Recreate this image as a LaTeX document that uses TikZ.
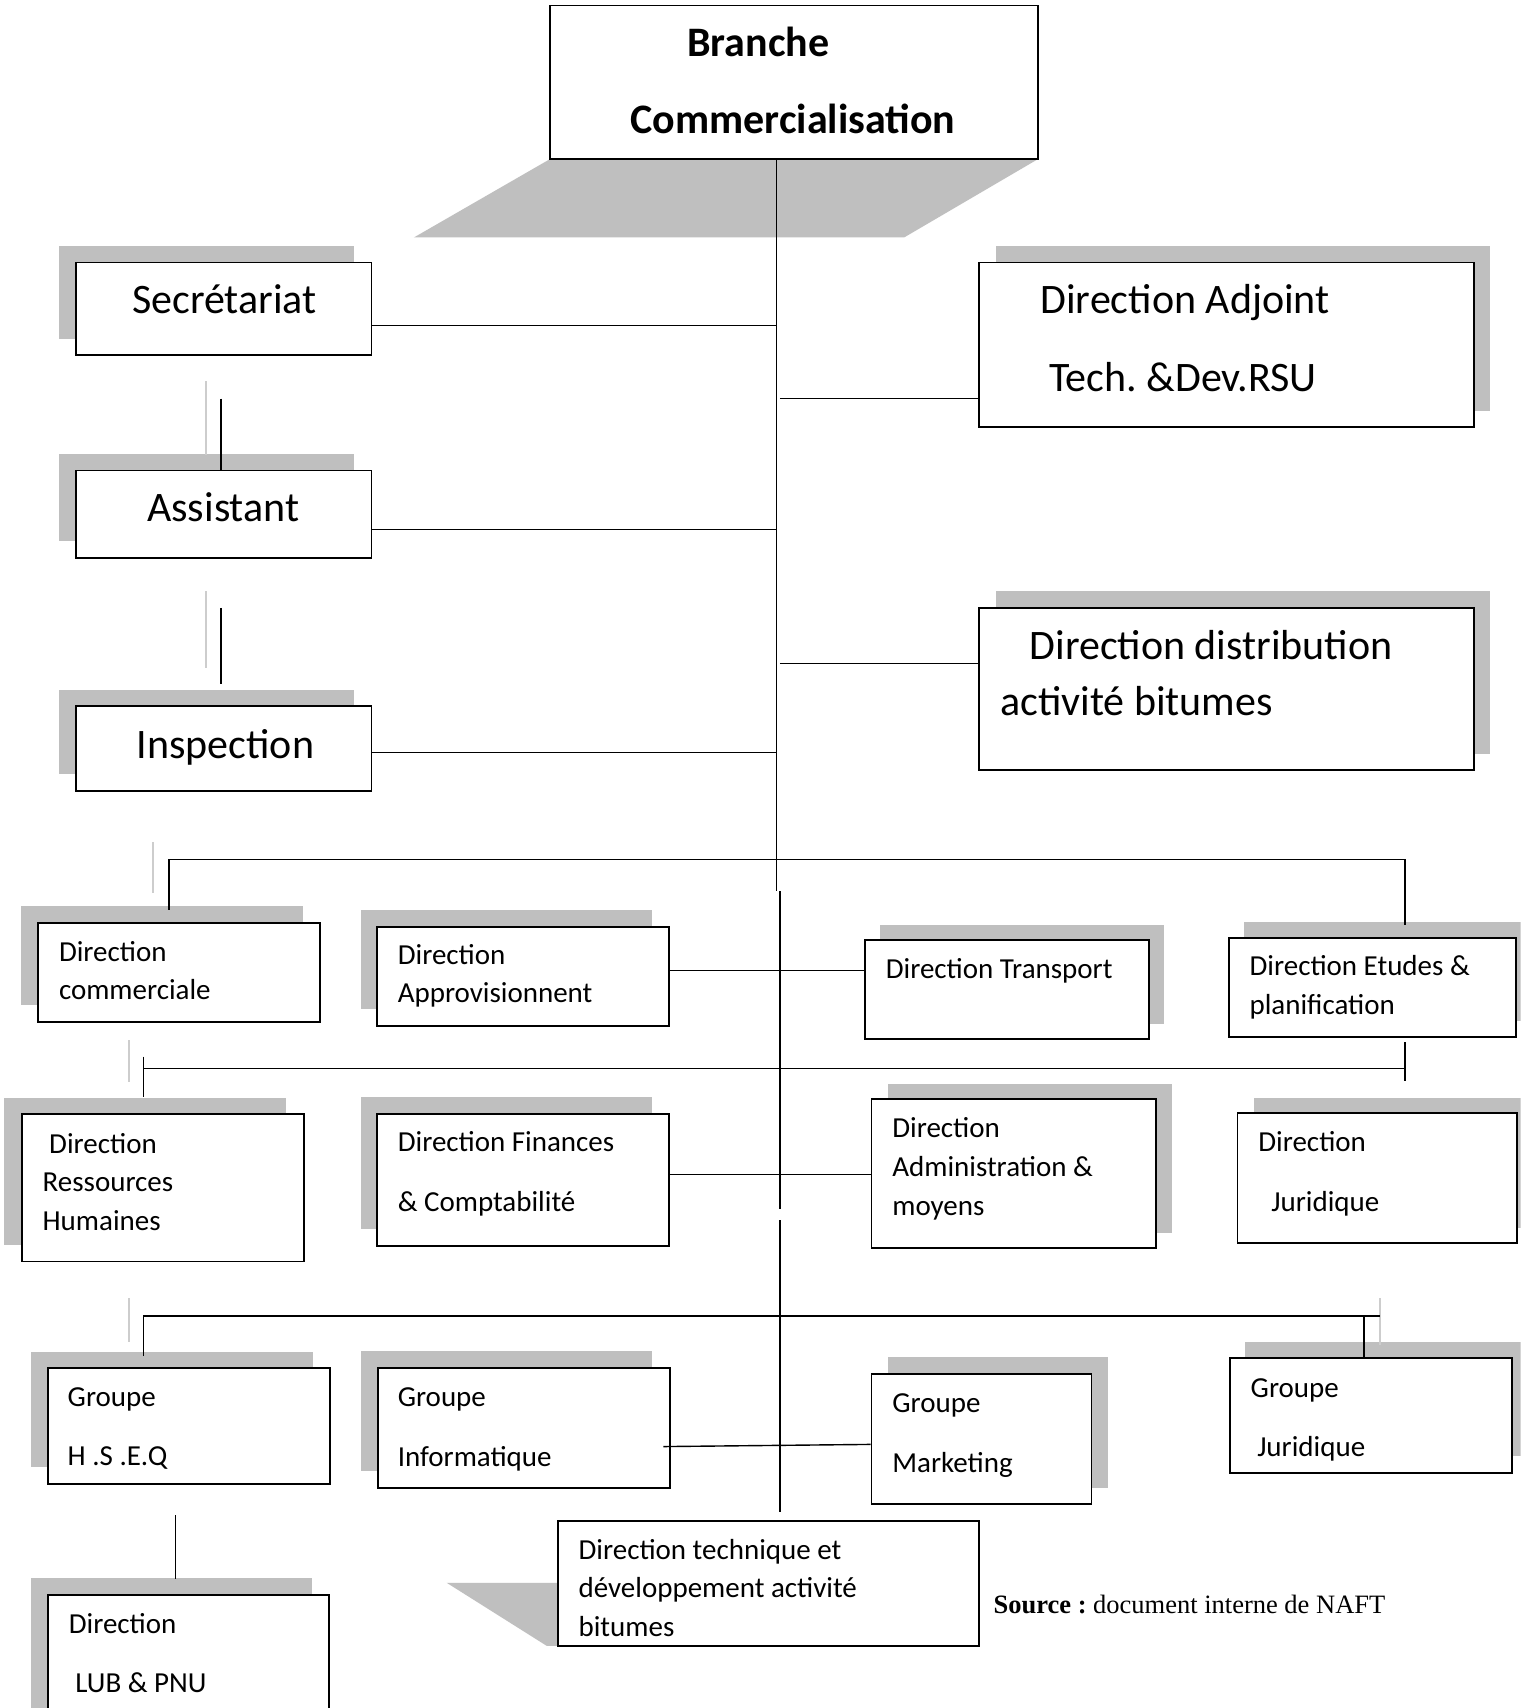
\documentclass[tikz,border=0pt]{standalone}
\usepackage{fontspec}
\setmainfont{Carlito}
\newfontfamily\srcfont{Liberation Serif}
\usetikzlibrary{fit}
\definecolor{shadowgray}{RGB}{191,191,191}
\definecolor{lightline}{RGB}{205,205,205}
\tikzset{
  orgbox/.style={draw=black, fill=white, line width=1.8pt, inner sep=0pt},
  conn/.style={line width=1.4pt, draw=black},
  ghost/.style={line width=2pt, draw=lightline},
  bigtxt/.style={font=\fontsize{42}{50}\selectfont, inner sep=0pt, anchor=base},
  bigleft/.style={bigtxt, anchor=base west},
  boldtxt/.style={font=\fontsize{42}{50}\selectfont\bfseries, inner sep=0pt, anchor=base},
  smalltxt/.style={font=\fontsize{29}{35}\selectfont, inner sep=0pt, anchor=base west},
  srctxt/.style={font=\fontsize{26.5}{32}\selectfont\srcfont, inner sep=0pt, anchor=base west},
}
\newcommand\mkorgbox[7]{%
  \fill[shadowgray, shift={(#6,#7)}] (#2,#3) rectangle (#4,#5);
  \node[orgbox, fit={(#2,#3) (#4,#5)}] (#1) {};
}
\frenchspacing
\begin{document}
\begin{tikzpicture}[x=1.0896pt, y=-1.0896pt]
\clip (0,0) rectangle (1396,1568);
\fill[white] (0,0) rectangle (1396,1568);

% ---------- top box ----------
\fill[shadowgray] (505,146) -- (953,146) -- (830,218) -- (380,218) -- cycle;
\node[orgbox, fit={(505,5) (953,146)}] (top) {};
\node[boldtxt] (t1) at (696,52) {Branche};
\node[boldtxt] (t2) at (728,123) {Commercialisation};

% ---------- left column ----------
\mkorgbox{sec}{70}{241}{341}{326}{-16}{-15}
\node[bigtxt] (secT) at (206,288) {Secrétariat};
\mkorgbox{asst}{70}{432}{341}{512}{-16}{-15}
\node[bigtxt] (asstT) at (205,479) {Assistant};
\mkorgbox{insp}{70}{648}{341}{726}{-16}{-15}
\node[bigtxt] (inspT) at (207,696) {Inspection};

% ---------- right column ----------
\mkorgbox{adj}{899}{241}{1353}{392}{15}{-15}
\node[bigleft] (adjT1) at (955,288) {Direction Adjoint};
\node[bigleft] (adjT2) at (963,359) {Tech. \&Dev.RSU};
\mkorgbox{dist}{899}{558}{1353}{707}{15}{-15}
\node[bigleft] (distT1) at (945,605) {Direction distribution};
\node[bigleft] (distT2) at (918,657) {activité bitumes};

% ---------- row 1 ----------
\mkorgbox{dcom}{35}{847}{294}{938}{-16}{-15}
\node[smalltxt] (dcomT1) at (54,882.5) {Direction};
\node[smalltxt] (dcomT2) at (54,917.5) {commerciale};
\mkorgbox{appro}{346}{851}{614}{942}{-15}{-16}
\node[smalltxt] (approT1) at (365,885.5) {Direction};
\node[smalltxt] (approT2) at (365,920.5) {Approvisionnent};
\mkorgbox{trans}{794}{863}{1055}{954}{14}{-14}
\node[smalltxt] (transT) at (813,898.5) {Direction Transport};
\mkorgbox{etud}{1128}{861}{1392}{952}{14}{-15}
\node[smalltxt] (etudT1) at (1147,895.5) {Direction Etudes \&};
\node[smalltxt] (etudT2) at (1147,931.5) {planification};

% ---------- row 2 ----------
\mkorgbox{rh}{20}{1023}{279}{1158}{-16}{-15}
\node[smalltxt] (rhT1) at (45,1058.5) {Direction};
\node[smalltxt] (rhT2) at (39,1093.5) {Ressources};
\node[smalltxt] (rhT3) at (39,1129.5) {Humaines};
\mkorgbox{fin}{346}{1023}{614}{1144}{-15}{-16}
\node[smalltxt] (finT1) at (365,1057.5) {Direction Finances};
\node[smalltxt] (finT2) at (365,1112.5) {\& Comptabilité};
\mkorgbox{admin}{800}{1009}{1061}{1146}{15}{-14}
\node[smalltxt] (adminT1) at (819,1044.5) {Direction};
\node[smalltxt] (adminT2) at (819,1080) {Administration \&};
\node[smalltxt] (adminT3) at (819,1115.5) {moyens};
\mkorgbox{jur}{1136}{1022}{1393}{1141}{15}{-14}
\node[smalltxt] (jurT1) at (1155,1057.5) {Direction};
\node[smalltxt] (jurT2) at (1167,1112.5) {Juridique};

% ---------- row 3 ----------
\mkorgbox{hseq}{44}{1256}{303}{1362}{-16}{-15}
\node[smalltxt] (hseqT1) at (62,1291.5) {Groupe};
\node[smalltxt] (hseqT2) at (62,1345.5) {H .S .E.Q};
\mkorgbox{info}{347}{1256}{615}{1366}{-16}{-16}
\node[smalltxt] (infoT1) at (365,1291.5) {Groupe};
\node[smalltxt] (infoT2) at (365,1346.5) {Informatique};
\mkorgbox{mkt}{800}{1261}{1002}{1381}{15}{-15}
\node[smalltxt] (mktT1) at (819,1296.5) {Groupe};
\node[smalltxt] (mktT2) at (819,1351.5) {Marketing};
\mkorgbox{gjur}{1129}{1247}{1388}{1352}{14}{-15}
\node[smalltxt] (gjurT1) at (1148,1282.5) {Groupe};
\node[smalltxt] (gjurT2) at (1154,1337.5) {Juridique};

% ---------- bottom ----------
\mkorgbox{lub}{44}{1464}{302}{1600}{-16}{-15}
\node[smalltxt] (lubT1) at (63,1499.5) {Direction};
\node[smalltxt] (lubT2) at (69,1553.5) {LUB \& PNU};
\fill[shadowgray] (410,1453) -- (512,1453) -- (512,1511) -- (502,1511) -- cycle;
\node[orgbox, fit={(512,1396) (899,1511)}] (dtech) {};
\node[smalltxt] (dtechT1) at (531,1431.5) {Direction technique et};
\node[smalltxt] (dtechT2) at (531,1466.5) {développement activité};
\node[smalltxt] (dtechT3) at (531,1502.5) {bitumes};
\node[srctxt] (src) at (912,1481) {\textbf{Source :} document interne de NAFT};

% ---------- light ghost lines ----------
\draw[ghost] (189,350) -- (189,418);
\draw[ghost] (189,543) -- (189,613);
\draw[ghost] (140,773) -- (140,820);
\draw[ghost] (118,955) -- (118,993);
\draw[ghost] (118,1192) -- (118,1232);
\draw[ghost] (1267,1192) -- (1267,1235);

% ---------- spine ----------
\coordinate (sA) at (713,818);
\draw[conn] (top.south -| sA) -- (sA);
\coordinate (sB1) at (716,818);
\coordinate (sB2) at (716,1110);
\draw[conn] (sB1) -- (sB2);
\coordinate (sC1) at (716,1120);
\coordinate (sC2) at (716,1388);
\draw[conn] (sC1) -- (sC2);

% ---------- branches ----------
\coordinate (j1) at (713,299);
\draw[conn] (sec.east |- j1) -- (j1);
\coordinate (j2) at (716,366);
\draw[conn] (j2) -- (adj.west |- j2);
\coordinate (j3) at (713,486);
\draw[conn] (asst.east |- j3) -- (j3);
\coordinate (j4) at (716,609);
\draw[conn] (j4) -- (dist.west |- j4);
\coordinate (j5) at (713,691);
\draw[conn] (insp.east |- j5) -- (j5);

% vertical links left column
\coordinate (v1) at (203,366);
\draw[conn] (v1) -- (asst.north -| v1);
\coordinate (v2a) at (203,558);
\coordinate (v2b) at (203,628);
\draw[conn] (v2a) -- (v2b);

% bar 1
\coordinate (b1l) at (155,835);
\coordinate (b1r) at (1290,849);
\draw[conn] (b1l) -- (155,789) -- (1290,789) -- (b1r);
\draw[conn] (appro.east |- 0,891) -- (trans.west |- 0,891);

% bar 2
\coordinate (b2a) at (132,970);
\coordinate (b2b) at (132,1007);
\draw[conn] (b2a) -- (b2b);
\coordinate (b2l) at (132,981);
\coordinate (b2r) at (1290,981);
\draw[conn] (b2l) -- (b2r);
\coordinate (b2c) at (1290,957);
\coordinate (b2d) at (1290,992);
\draw[conn] (b2c) -- (b2d);
\draw[conn] (fin.east |- 0,1078) -- (admin.west |- 0,1078);

% bar 3
\coordinate (b3l) at (132,1245);
\coordinate (b3r) at (1267,1208);
\draw[conn] (b3l) -- (132,1208) -- (b3r);
\coordinate (b3j) at (1252,1208);
\draw[conn] (b3j) -- (gjur.north -| b3j);
\draw[conn] (609,1328) -- (mkt.west |- 0,1326);

% HSEQ - LUB
\coordinate (l1) at (161,1391);
\coordinate (l2) at (161,1450);
\draw[conn] (l1) -- (l2);
\end{tikzpicture}
\end{document}
